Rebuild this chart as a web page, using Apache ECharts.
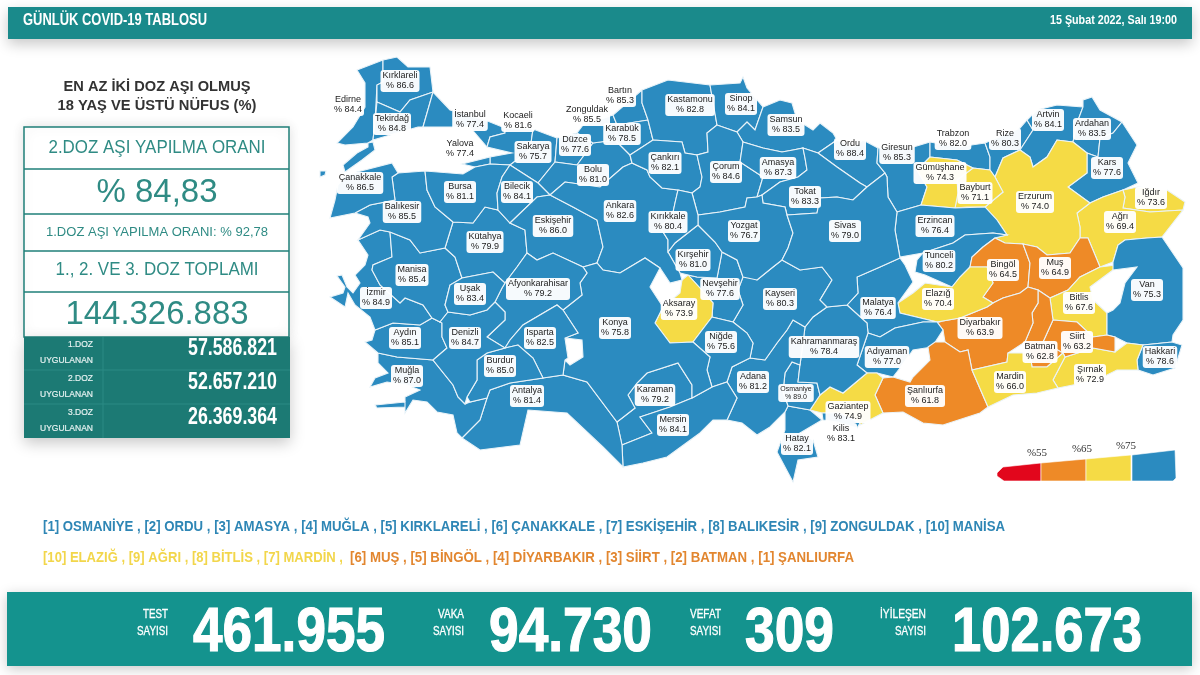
<!DOCTYPE html>
<html><head><meta charset="utf-8">
<style>html,body{margin:0;padding:0;background:#fff}#c{width:1200px;height:675px}</style>
<script src="https://cdn.jsdelivr.net/npm/echarts@6/dist/echarts.min.js"></script>
</head><body><div id="c"></div>
<script>
// ---------- values ----------
const provinces = ["Edirne","Kırklareli","Tekirdağ","İstanbul","Kocaeli","Yalova","Sakarya","Düzce","Bolu","Zonguldak","Bartın","Karabük","Kastamonu","Sinop","Samsun","Ordu","Giresun","Trabzon","Rize","Artvin","Ardahan","Kars","Iğdır","Ağrı","Erzurum","Bayburt","Gümüşhane","Erzincan","Tunceli","Bingöl","Muş","Bitlis","Van","Hakkari","Şırnak","Siirt","Batman","Diyarbakır","Elazığ","Malatya","Adıyaman","Şanlıurfa","Gaziantep","Kilis","Hatay","Osmaniye","Kahramanmaraş","Adana","Kayseri","Nevşehir","Kırşehir","Aksaray","Niğde","Karaman","Mersin","Antalya","Muğla","Aydın","İzmir","Manisa","Kütahya","Balıkesir","Bursa","Bilecik","Eskişehir","Ankara","Çankırı","Çorum","Amasya","Tokat","Yozgat","Kırıkkale","Sivas","Konya","Afyonkarahisar","Isparta","Burdur","Denizli","Uşak","Çanakkale","Mardin"];
const rates = [84.4,86.6,84.8,77.4,81.6,77.4,75.7,77.6,81.0,85.5,85.3,78.5,82.8,84.1,83.5,88.4,85.3,82.0,80.3,84.1,83.5,77.6,73.6,69.4,74.0,71.1,74.3,76.4,80.2,64.5,64.9,67.6,75.3,78.6,72.9,63.2,62.8,63.9,70.4,76.4,77.0,61.8,74.9,83.1,82.1,89.0,78.4,81.2,80.3,77.6,81.0,73.9,75.6,79.2,84.1,81.4,87.0,85.1,84.9,85.4,79.9,85.5,81.1,84.1,86.0,82.6,82.1,84.6,87.3,83.3,76.7,80.4,79.0,75.8,79.2,82.5,85.0,84.7,83.4,86.5,66.0];
const bandLimits = [55,65,75];
const bandLabels = ["%55","%65","%75"];
const bandColors = ["#E2061C","#EE8A27","#F5DB45","#2B8BC0"];
const topRanked = "[1] OSMANİYE , [2] ORDU , [3] AMASYA , [4] MUĞLA , [5] KIRKLARELİ , [6] ÇANAKKALE , [7] ESKİŞEHİR , [8] BALIKESİR , [9] ZONGULDAK , [10] MANİSA";
const lowYellow = "[10] ELAZIĞ , [9] AĞRI , [8] BİTLİS , [7] MARDİN ,";
const lowOrange = "[6] MUŞ , [5] BİNGÖL , [4] DİYARBAKIR , [3] SİİRT , [2] BATMAN , [1] ŞANLIURFA";
const doseRows = [["1.DOZ","57.586.821"],["2.DOZ","52.657.210"],["3.DOZ","26.369.364"]];
const dailyTotals = [["TEST","461.955"],["VAKA","94.730"],["VEFAT","309"],["İYİLEŞEN","102.673"]];

// ---------- base map outlines (province borders in picture space) ----------
const outlines = {
"Edirne":["357,70 383,60 383,82 377,85 375,122 373,140 368,143 345,145 337,143 353,127 365,107 365,83"],
"Kırklareli":["383,60 397,57 408,67 430,67 433,92 410,100 400,112 377,102 377,85 383,82"],
"Tekirdağ":["377,102 400,112 410,100 433,92 423,127 418,127 397,133 373,140 375,122"],
"İstanbul":["433,92 450,110 485,120 505,128 505,133 490,137 487,147 475,133 470,127 423,127"],
"Kocaeli":["505,128 533,129 530,150 510,165 490,164 490,157 512,153 487,147 490,137 505,133"],
"Yalova":["462,164 490,157 490,164 475,167"],
"Sakarya":["533,129 557,138 555,162 538,183 510,165 530,150"],
"Düzce":["557,138 577,133 593,143 577,165 555,162"],
"Bolu":["555,162 577,165 593,143 615,140 630,155 632,163 623,167 600,187 565,182 550,195 538,183"],
"Zonguldak":["577,133 583,125 613,115 617,125 615,140 593,143"],
"Bartın":["613,115 642,90 642,103 648,120 617,125"],
"Karabük":["617,125 648,120 653,140 630,155 615,140"],
"Kastamonu":["642,90 668,80 710,85 717,125 707,133 708,152 697,155 685,153 682,142 653,140 648,120 642,103"],
"Sinop":["710,85 740,83 743,77 747,88 763,107 755,130 747,122 737,132 717,125"],
"Samsun":["763,107 780,100 792,103 797,120 813,130 820,123 833,133 837,140 818,153 803,148 793,150 782,152 763,148 743,142 737,132 747,122 755,130"],
"Ordu":["837,140 853,147 863,140 878,148 877,163 885,173 867,187 860,183 837,167 818,153"],
"Giresun":["878,148 910,148 930,142 930,157 917,170 927,187 921,205 897,212 888,197 887,177 885,173 877,163"],
"Trabzon":["930,142 958,147 985,143 990,157 990,170 973,168 957,160 930,157"],
"Rize":["985,143 1020,128 1027,120 1033,130 1020,150 1003,158 995,177 990,170 990,157"],
"Artvin":["1027,120 1037,110 1057,105 1083,107 1077,123 1073,142 1057,140 1047,157 1033,167 1030,157 1020,150 1033,130"],
"Ardahan":["1083,107 1083,100 1092,97 1100,110 1122,122 1113,133 1100,138 1098,157 1087,153 1073,142 1077,123"],
"Kars":["1122,122 1137,145 1128,163 1138,183 1123,190 1103,197 1090,203 1068,187 1087,173 1087,153 1098,157 1100,138 1113,133"],
"Iğdır":["1123,190 1138,187 1167,190 1185,202 1183,210 1150,212 1123,208 1125,197"],
"Ağrı":["1090,203 1103,197 1123,190 1125,197 1123,208 1150,212 1183,210 1162,237 1147,238 1125,240 1118,245 1113,262 1100,267 1088,238 1080,238 1080,227 1077,213"],
"Erzurum":["1033,167 1047,157 1057,140 1073,142 1087,153 1087,173 1068,187 1090,203 1077,213 1080,227 1080,238 1070,253 1047,255 1037,247 1023,244 1005,243 995,238 1007,235 997,220 985,207 1003,192 995,177 1003,158 1020,150 1030,157"],
"Bayburt":["973,168 990,170 995,177 1003,192 985,207 967,207 955,208 958,193 957,180"],
"Gümüşhane":["930,157 957,160 973,168 957,180 958,193 955,208 921,205 927,187 917,170"],
"Erzincan":["897,212 921,205 955,208 985,207 997,220 1007,235 993,233 965,235 953,243 923,253 900,257 895,230"],
"Tunceli":["923,253 953,243 965,235 993,233 1007,235 995,238 983,247 972,257 970,267 960,277 952,287 925,275 915,272 917,260"],
"Bingöl":["983,247 995,238 1005,243 1023,244 1030,263 1028,287 1020,293 1003,298 993,303 983,297 993,283 987,267 970,267 972,257"],
"Muş":["1023,244 1037,247 1047,255 1070,253 1080,238 1088,238 1100,267 1080,277 1068,290 1050,298 1038,290 1028,287 1030,263"],
"Bitlis":["1050,298 1068,290 1080,277 1100,267 1116,265 1113,270 1090,287 1093,300 1107,313 1107,335 1093,337 1077,322 1053,320"],
"Van":["1113,262 1118,245 1125,240 1147,238 1162,237 1183,268 1183,320 1173,335 1172,342 1143,345 1127,343 1115,337 1107,335 1107,313 1113,310 1120,303 1125,283 1137,267 1113,270"],
"Hakkari":["1143,345 1172,342 1182,345 1175,368 1153,375 1138,370 1137,360"],
"Şırnak":["1093,348 1115,352 1127,343 1143,345 1137,360 1138,370 1117,370 1097,380 1083,383 1058,388 1053,380 1065,357"],
"Siirt":["1053,320 1077,322 1093,337 1107,335 1115,337 1115,352 1093,348 1065,357 1063,353 1043,342"],
"Batman":["1038,290 1050,298 1053,320 1043,342 1063,353 1047,367 1032,367 1030,353 1025,342 1033,323 1032,313 1038,303"],
"Diyarbakır":["937,322 960,318 987,307 993,303 1003,298 1020,293 1028,287 1038,290 1038,303 1032,313 1033,323 1025,342 1008,353 1007,362 972,370 968,350 960,352 945,342 943,330"],
"Elazığ":["898,303 913,293 925,283 952,287 960,277 970,267 987,267 993,283 983,297 993,303 987,307 960,318 937,322 900,313"],
"Malatya":["847,305 858,293 857,277 880,267 900,258 905,265 913,282 898,303 900,313 937,322 923,322 895,328 880,337 868,333 867,323"],
"Adıyaman":["868,333 880,337 895,328 923,322 937,322 943,330 932,347 913,350 900,368 893,377 877,373 867,373 857,365"],
"Şanlıurfa":["928,347 935,342 945,342 960,352 968,350 972,370 988,407 980,413 943,425 923,423 903,412 883,413 875,395 883,378 893,377 910,382 913,377 930,360"],
"Mardin":["972,370 1007,362 1008,353 1030,353 1032,367 1047,367 1063,353 1065,357 1053,380 1058,388 1037,393 1013,395 988,407"],
"Gaziantep":["810,410 820,395 830,387 843,393 867,373 877,373 883,378 875,395 883,413 860,425 860,423 840,413 822,413"],
"Kilis":["822,413 840,413 860,423 857,428 837,422 823,420"],
"Hatay":["788,406 810,410 822,420 800,433 813,440 818,457 798,460 793,482 777,452 785,430 785,412"],
"Osmaniye":["792,362 800,365 798,382 817,383 820,395 810,410 788,406 783,392 785,373"],
"Kahramanmaraş":["813,317 827,307 847,305 867,323 868,333 857,365 867,373 843,393 830,387 820,395 817,383 798,382 800,365 803,343 805,327"],
"Adana":["793,320 805,327 803,343 800,365 792,362 785,373 783,392 788,406 785,412 770,427 757,435 742,423 727,420 737,398 727,382 732,367 750,358 765,360 777,343 787,330"],
"Kayseri":["737,260 757,280 773,267 782,260 800,270 822,267 832,280 820,300 827,307 813,317 805,327 793,320 787,330 777,343 765,360 750,358 753,343 747,333 733,322 743,305 738,290 743,277"],
"Nevşehir":["722,252 737,260 743,277 738,290 743,305 733,322 712,317 713,303 700,288 688,275 697,277 717,278"],
"Kırşehir":["668,252 675,243 698,225 715,242 722,252 717,278 697,277 688,275 680,273"],
"Aksaray":["682,280 688,275 700,288 713,303 712,317 693,342 670,343 655,323 663,307 680,293"],
"Niğde":["693,342 712,317 733,322 747,333 753,343 750,358 732,367 727,382 712,387 707,370 710,357"],
"Karaman":["617,422 635,408 628,395 637,383 647,373 678,363 692,385 692,398 670,407 640,417 652,433 622,445"],
"Mersin":["622,445 652,433 640,417 670,407 692,398 712,387 727,382 737,398 727,420 713,420 700,433 667,457 643,463 623,467"],
"Antalya":["487,398 490,390 510,383 543,378 563,375 587,382 617,422 622,445 623,467 603,447 567,413 528,410 520,445 480,450 462,438 480,420"],
"Muğla":["378,353 397,357 433,360 453,385 458,397 465,404 470,402 487,398 480,420 462,438 457,433 453,415 437,412 427,402 413,400 405,413 405,397 420,390 407,385 387,382 370,387 375,378 388,373 378,363","375,405 405,402 405,407 377,408"],
"Aydın":["375,330 393,323 420,325 432,318 440,322 442,323 442,337 447,348 433,360 397,357 378,353 365,342 372,340"],
"İzmir":["358,240 380,230 390,232 392,257 373,265 372,270 380,285 400,303 405,298 423,305 432,318 420,325 393,323 375,330 370,317 355,305 348,293 345,307 330,297 343,293 345,287 337,276 342,275 347,287 353,293 360,283 355,275 365,265 368,255"],
"Manisa":["390,232 410,240 420,253 445,248 455,257 462,278 450,285 445,305 448,312 440,322 432,318 423,305 405,298 400,303 380,285 372,270 373,265 392,257"],
"Kütahya":["453,222 473,223 485,207 498,210 510,223 525,230 527,253 517,267 505,283 493,272 462,278 455,257 445,248"],
"Balıkesir":["398,173 425,171 427,190 435,207 453,222 445,248 420,253 410,240 390,232 380,230 358,240 370,223 368,217 355,213 370,205 395,200 392,177"],
"Bursa":["425,171 463,174 475,167 490,164 510,165 502,177 497,193 498,210 485,207 473,223 453,222 435,207 427,190"],
"Bilecik":["510,165 538,183 550,195 537,197 510,223 498,210 497,193 502,177"],
"Eskişehir":["510,223 537,197 550,195 573,207 597,220 603,247 597,263 583,267 553,253 537,260 527,253 525,230"],
"Ankara":["632,163 647,170 650,177 662,188 678,190 675,203 672,217 660,227 668,240 668,252 680,273 682,280 670,283 660,268 645,258 620,273 603,270 597,263 603,247 597,220 573,207 550,195 565,182 600,187 623,167"],
"Çankırı":["630,155 653,140 682,142 685,153 697,155 702,177 700,187 692,193 678,190 662,188 650,177 647,170 632,163"],
"Çorum":["708,152 707,133 717,125 737,132 743,142 740,162 763,177 757,197 747,198 745,207 720,212 698,215 692,193 700,187 702,177 697,155"],
"Amasya":["743,142 763,148 782,152 793,150 803,148 805,158 807,170 798,177 780,182 762,195 757,197 763,177 740,162"],
"Tokat":["803,148 818,153 837,167 860,183 867,187 853,200 837,197 820,198 817,213 787,215 785,207 763,203 762,195 780,182 798,177 807,170 805,158"],
"Yozgat":["698,215 720,212 745,207 747,198 757,197 762,195 763,203 785,207 787,215 793,233 788,248 782,260 773,267 757,280 743,277 737,260 722,252 715,242 698,225"],
"Kırıkkale":["678,190 692,193 698,215 698,225 675,243 668,252 668,240 660,227 672,217 675,203"],
"Sivas":["787,215 817,213 820,198 837,197 853,200 867,187 885,173 887,177 888,197 897,212 895,230 900,258 880,267 857,277 858,293 847,305 827,307 820,300 832,280 822,267 800,270 782,260 788,248 793,233"],
"Konya":["583,267 597,263 603,270 620,273 645,258 660,268 650,287 663,307 655,323 670,343 693,342 710,357 707,370 712,387 692,398 692,385 678,363 647,373 637,383 628,395 635,408 617,422 587,382 563,375 565,360 570,365 583,357 582,340 565,338 578,333 563,310 582,295 580,283 587,273"],
"Afyonkarahisar":["505,283 517,267 527,253 537,260 553,253 583,267 587,273 580,283 582,295 563,310 557,305 523,325 510,340 505,348 487,337 505,320 505,312 495,302 502,288"],
"Isparta":["505,348 510,340 523,325 557,305 563,310 578,333 565,338 568,358 565,360 563,375 543,378 533,358 518,345"],
"Burdur":["477,360 487,353 505,348 518,345 533,358 543,378 510,383 490,390 487,398 470,402 467,397 477,380"],
"Denizli":["440,322 448,312 470,315 487,310 495,302 505,312 505,320 487,337 505,348 487,353 477,360 477,380 467,397 465,404 458,397 453,385 433,360 447,348 442,337 442,323"],
"Uşak":["462,278 493,272 505,283 502,288 495,302 487,310 470,315 448,312 445,305 450,285"],
"Çanakkale":["345,177 357,172 392,163 398,173 392,177 395,200 370,205 355,213 330,218 335,200 338,185","368,143 373,142 375,150 362,160 345,172 343,165 357,153 368,147","320,171 326,171 325,175 320,177"]
};
const labelAnchors = {"Kırklareli":[400,81],"Edirne":[348,105],"Tekirdağ":[392,124],"İstanbul":[470,120],"Kocaeli":[518,121],"Zonguldak":[587,115],"Yalova":[460,149],"Sakarya":[533,152],"Düzce":[575,145],"Bolu":[593,175],"Çanakkale":[360,183],"Bursa":[460,192],"Bilecik":[517,192],"Balıkesir":[402,212],"Eskişehir":[553,226],"Kütahya":[485,242],"Manisa":[412,275],"İzmir":[376,298],"Uşak":[470,294],"Afyonkarahisar":[538,289],"Aydın":[405,338],"Denizli":[465,338],"Isparta":[540,338],"Burdur":[500,366],"Muğla":[407,376],"Antalya":[527,396],"Konya":[615,328],"Bartın":[620,96],"Karabük":[622,134],"Kastamonu":[690,105],"Sinop":[741,104],"Samsun":[786,125],"Çankırı":[665,163],"Çorum":[726,172],"Amasya":[778,168],"Ordu":[850,149],"Tokat":[805,197],"Ankara":[620,211],"Kırıkkale":[668,222],"Yozgat":[744,231],"Sivas":[845,231],"Kırşehir":[693,260],"Giresun":[897,153],"Trabzon":[953,139],"Rize":[1005,139],"Artvin":[1048,120],"Ardahan":[1092,129],"Kars":[1107,168],"Gümüşhane":[940,173],"Bayburt":[975,193],"Erzurum":[1035,202],"Iğdır":[1151,198],"Ağrı":[1120,222],"Erzincan":[935,226],"Tunceli":[939,261],"Bingöl":[1003,270],"Muş":[1055,268],"Van":[1147,290],"Bitlis":[1079,303],"Elazığ":[938,299],"Malatya":[878,308],"Diyarbakır":[980,328],"Siirt":[1077,342],"Batman":[1040,352],"Adıyaman":[887,357],"Mardin":[1010,382],"Şırnak":[1090,375],"Hakkari":[1160,357],"Şanlıurfa":[925,396],"Kahramanmaraş":[824,347],"Gaziantep":[848,412],"Kilis":[841,434],"Osmaniye":[796,393],"Hatay":[797,444],"Adana":[753,382],"Kayseri":[780,299],"Nevşehir":[720,289],"Aksaray":[679,309],"Niğde":[721,342],"Karaman":[655,395],"Mersin":[673,425]};

const ring = s => { const p = s.split(' ').map(t => t.split(',').map(Number)); p.push(p[0]); return p; };
const geo = { type:'FeatureCollection', features: provinces.map(n => ({
  type:'Feature',
  properties:{ name:n, cp:labelAnchors[n] },
  geometry:{ type:'MultiPolygon', coordinates: outlines[n].map(s => [ring(s)]) }
}))};
echarts.registerMap('tr', geo);

const SANS = '"Liberation Sans", Arial, sans-serif';
const mctx = document.createElement('canvas').getContext('2d');
function T(text, x, y, size, fill, o) {
  o = o || {};
  const weight = o.bold ? 'bold' : 'normal', family = o.family || SANS;
  let sx = 1;
  if (o.w) { mctx.font = weight + ' ' + size + 'px ' + family; sx = o.w / mctx.measureText(text).width; }
  const style = { text, x:0, y:0, fill, fontSize:size, fontWeight:weight, fontFamily:family,
      align:o.align||'left', verticalAlign:'middle' };
  if (o.heavy) { style.stroke = fill; style.lineWidth = o.heavy; }
  return { type:'text', x, y, scaleX:sx, z:o.z||20, silent:true, style };
}
function R(x, y, w, h, fill, o) {
  o = o || {};
  return { type:'rect', silent:true, z:o.z||10, shape:{x,y,width:w,height:h,r:o.r||0},
    style:Object.assign({fill}, o.style||{}) };
}
const TEAL='#1A8A8B', DARK='#1C7A74', LINE='#1F7F78', MID='#2F8B84';
const g = [];
// header
g.push(R(8,7,1184,32,TEAL,{style:{shadowBlur:14,shadowColor:'rgba(0,0,0,.22)',shadowOffsetY:5}}));
g.push(T('GÜNLÜK COVID-19 TABLOSU',23,20,17,'#fff',{bold:true,w:184}));
g.push(T('15 Şubat 2022, Salı 19:00',1177,20,13,'#fff',{bold:true,align:'right',w:127}));
// vaccine panel
g.push(T('EN AZ İKİ DOZ AŞI OLMUŞ',157,87,14,'#333',{bold:true,align:'center',w:187}));
g.push(T('18 YAŞ VE ÜSTÜ NÜFUS (%)',157,106,14,'#333',{bold:true,align:'center',w:199}));
g.push(R(24,127,265,210,'#fff',{style:{stroke:LINE,lineWidth:1.5,shadowBlur:12,shadowColor:'rgba(0,0,0,.12)'}}));
[169,214,251,292].forEach(y=>g.push({type:'line',silent:true,z:11,shape:{x1:24,y1:y,x2:289,y2:y},style:{stroke:LINE,lineWidth:1.5}}));
g.push(T('2.DOZ AŞI YAPILMA ORANI',157,148,18,MID,{align:'center',w:217}));
g.push(T('% 84,83',157,193,34,MID,{align:'center',w:121}));
g.push(T('1.DOZ AŞI YAPILMA ORANI: % 92,78',157,232,13,MID,{align:'center',w:222}));
g.push(T('1., 2. VE 3. DOZ TOPLAMI',157,270,18,MID,{align:'center',w:203}));
g.push(T('144.326.883',157,315,34,MID,{align:'center',w:183}));
g.push(R(24,337,266,101,DARK,{style:{shadowBlur:14,shadowColor:'rgba(0,0,0,.22)',shadowOffsetY:5}}));
g.push({type:'line',silent:true,z:11,shape:{x1:103,y1:337,x2:103,y2:438},style:{stroke:'#2A8A84',lineWidth:1}});
[370,404].forEach(y=>g.push({type:'line',silent:true,z:11,shape:{x1:24,y1:y,x2:290,y2:y},style:{stroke:'#2A8A84',lineWidth:1}}));
doseRows.forEach((r,i)=>{
  const y0=[345,379,413][i];
  g.push(T(r[0],93,y0-1,9.5,'#e6f2f1',{align:'right',w:25,heavy:.2}));
  g.push(T('UYGULANAN',93,y0+15,9.5,'#e6f2f1',{align:'right',w:53,heavy:.2}));
  g.push(T(r[1],277,y0+3+(i==2?1:0),24,'#fff',{bold:true,align:'right',w:89}));
});
// ranking lists
g.push(T(topRanked,43,527,14,'#2E86B5',{bold:true,w:962}));
g.push(T(lowYellow,43,558,14,'#F2D64B',{bold:true,w:300}));
g.push(T(lowOrange,350,558,14,'#E2862F',{bold:true,w:504}));
// bottom band
g.push(R(7,592,1185,74,'#14938E',{style:{shadowBlur:12,shadowColor:'rgba(0,0,0,.22)',shadowOffsetY:3}}));
const totalPos=[[168,193,192,25],[464,489,163,26],[721,745,89,31],[926,952,190,46]];
dailyTotals.forEach((d,i)=>{
  const p=totalPos[i];
  g.push(T(d[0],p[0],615,12,'#fff',{align:'right',w:p[3],heavy:.3}));
  g.push(T('SAYISI',p[0],632,12,'#fff',{align:'right',w:31,heavy:.3}));
  g.push(T(d[1],p[1],634,63,'#fff',{bold:true,w:p[2],heavy:1.2}));
});
// colour key
const keyPts=[[[1041,463],[1041,481],[1004,481],[997,476],[997,473],[1003,467]],
              [[1041,463],[1086,459],[1086,481],[1041,481]],
              [[1086,459],[1131,455],[1131,481],[1086,481]],
              [[1132,455],[1175,450],[1176,478],[1173,481],[1132,481]]];
keyPts.forEach((p,i)=>g.push({type:'polygon',silent:true,z:10,shape:{points:p},style:{fill:bandColors[i],stroke:'#fff',lineWidth:.6}}));
bandLabels.forEach((t,i)=>g.push(T(t,[1037,1082,1126][i],[453,449,446][i],11,'#333',{align:'center',family:'"Liberation Serif", serif'})));

const option = {
  backgroundColor:'#fff',
  animation:false,
  graphic:g,
  visualMap:{ show:false, type:'piecewise', seriesIndex:0, pieces:[
    {lt:bandLimits[0],color:bandColors[0]},
    {gte:bandLimits[0],lt:bandLimits[1],color:bandColors[1]},
    {gte:bandLimits[1],lt:bandLimits[2],color:bandColors[2]},
    {gte:bandLimits[2],color:bandColors[3]} ] },
  series:[{
    type:'map', map:'tr', silent:true, roam:false,
    projection:{project:p=>[p[0],p[1]],unproject:p=>[p[0],p[1]]},
    boundingCoords:[[0,0],[1200,675]],
    left:0, top:0, width:1200, height:675,
    itemStyle:{borderColor:'#EAF3F8',borderWidth:1.1},
    label:{show:true, fontSize:9, lineHeight:10, color:'#222', fontFamily:SANS,
      backgroundColor:'rgba(255,255,255,.96)', borderRadius:3, padding:[1,2,1,2],
      formatter:p=>p.name+'\n% '+p.value.toFixed(1)},
    labelLayout:{hideOverlap:false},
    data:provinces.map((n,i)=>({name:n,value:rates[i],
      label:n==='Osmaniye'?{fontSize:7,lineHeight:8}:undefined}))
  }]
};
echarts.init(document.getElementById('c'),null,{renderer:'canvas'}).setOption(option);
</script></body></html>
